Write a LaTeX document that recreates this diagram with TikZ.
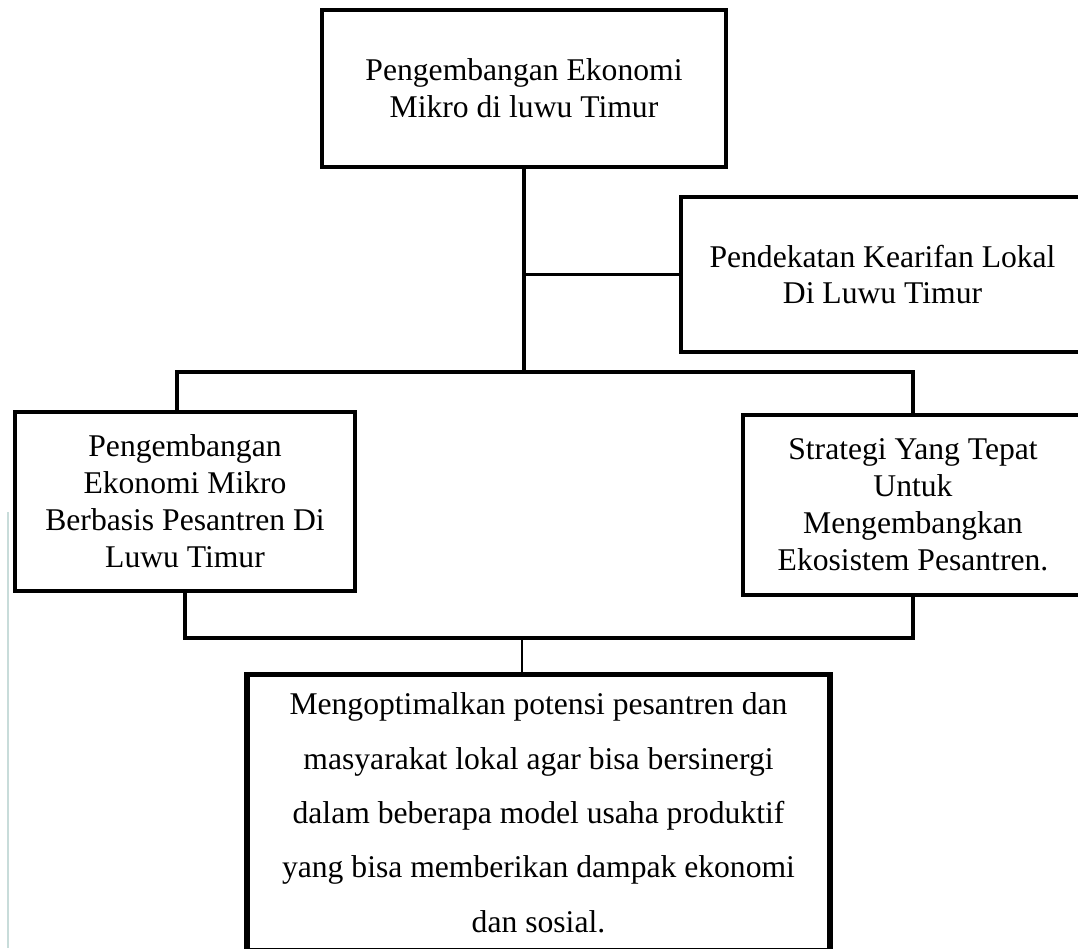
\documentclass[tikz,border=0pt]{standalone}
\usepackage{fontspec}
\setmainfont{Liberation Serif}

\begin{document}
\begin{tikzpicture}[x=0.02cm,y=-0.02cm,
  box/.style={draw, line width=2.2pt, align=center, inner sep=0pt,
    font=\fontsize{18}{21}\selectfont},
  link/.style={line width=2.2pt},
  thinlink/.style={line width=0.7pt}]
\useasboundingbox (0,0) rectangle (1078,948);
\clip (0,0) rectangle (1078,948);

% Boxes
\node[box, minimum width=8.08cm, minimum height=3.14cm] (top) at (524,88.5)
  {Pengembangan Ekonomi\\Mikro di luwu Timur};
\node[box, minimum width=8.06cm, minimum height=3.1cm] (kearifan) at (882.5,274.5)
  {Pendekatan Kearifan Lokal\\Di Luwu Timur};
\node[box, minimum width=6.8cm, minimum height=3.58cm] (pesantren) at (185,501.5)
  {Pengembangan\\Ekonomi Mikro\\Berbasis Pesantren Di\\Luwu Timur};
\node[box, minimum width=6.8cm, minimum height=3.6cm] (strategi) at (913,505)
  {Strategi Yang Tepat\\Untuk\\Mengembangkan\\Ekosistem Pesantren.};
\node[box, line width=3pt, minimum width=11.66cm, minimum height=5.53cm,
  font=\fontsize{18}{31}\selectfont] (dampak) at (538.5,812.7)
  {Mengoptimalkan potensi pesantren dan\\masyarakat lokal agar bisa bersinergi\\
   dalam beberapa model usaha produktif\\yang bisa memberikan dampak ekonomi\\
   dan sosial.};

% Bars
\coordinate (upbar) at (524,372);
\coordinate (lowbar) at (522,638);

% Connectors
\draw[link] (top.south) -- (upbar);
\draw[link] (top.south |- kearifan.west) -- (kearifan.west);
\draw[link] ([xshift=-0.16cm]pesantren.north) -- ([xshift=-0.16cm]pesantren.north |- upbar)
  -- (strategi.north |- upbar) -- (strategi.north);
\draw[link] (pesantren.south) -- (pesantren.south |- lowbar)
  -- (strategi.south |- lowbar) -- (strategi.south);
\draw[thinlink] (lowbar) -- (lowbar |- dampak.north);

% faint rule at the left margin
\draw[color={rgb,255:red,200;green,220;blue,218}, line width=0.6pt] (8,512) -- (8,948);
\end{tikzpicture}
\end{document}
